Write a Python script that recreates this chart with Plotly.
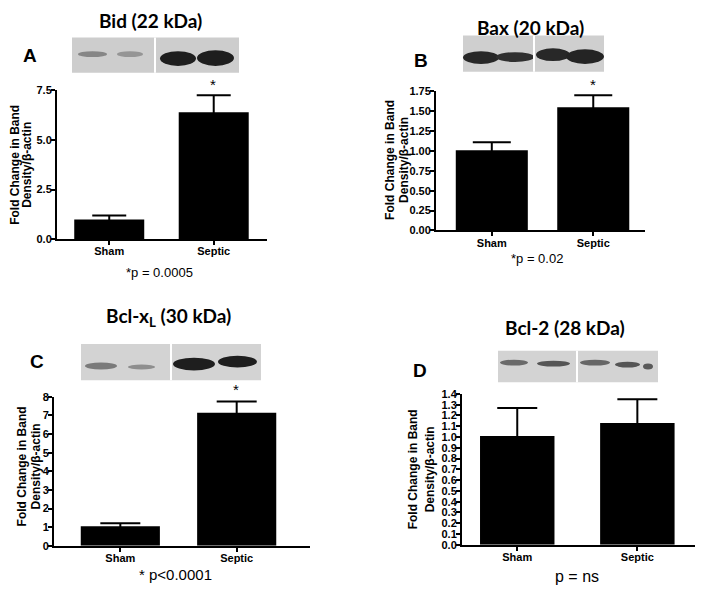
import plotly.graph_objects as go

# page body has an 8px default margin, so the figure is sized to fit the window
PAGE_OFF = 8
W, H = 704 - 2 * PAGE_OFF, 594 - 2 * PAGE_OFF

# ---------------- data ----------------
categories = ["Sham", "Septic"]

bid_values = [1.0, 6.4]
bid_errors = [0.2, 0.85]

bax_values = [1.01, 1.55]
bax_errors = [0.10, 0.15]

bclxl_values = [1.05, 7.15]
bclxl_errors = [0.16, 0.6]

bcl2_values = [1.01, 1.13]
bcl2_errors = [0.26, 0.22]

panel_titles = ["Bid (22 kDa)", "Bax (20 kDa)", "Bcl-x<sub>L</sub> (30 kDa)", "Bcl-2 (28 kDa)"]
panel_letters = ["A", "B", "C", "D"]
p_texts = ["*p = 0.0005", "*p = 0.02", "* p<0.0001", "p = ns"]
star_flags = [True, True, True, False]
ytitle_lines = ["Fold Change in Band", "Density/β-actin"]


def xp(px):
    return (px - PAGE_OFF) / W


def yp(py):
    return 1 - (py - PAGE_OFF) / H


# ---------------- layout geometry (window pixels) ----------------
panels = [
    dict(vals=bid_values, errs=bid_errors, xd=(57, 267), yd=(86, 238), yr=(0, 7.5), dtick=2.5, fmt=".1f",
         xr=(-0.5, 1.51), bw=0.67, cap=17, title=(150, 15), letter=(30, 50), ptxt=(159, 272), psize=13,
         ytx=(15, 27), yty=162, star=(213, 80)),
    dict(vals=bax_values, errs=bax_errors, xd=(436, 645), yd=(87, 229), yr=(0, 1.75), dtick=0.25, fmt=".2f",
         xr=(-0.55, 1.51), bw=0.71, cap=19, title=(530, 22), letter=(421, 55), ptxt=(537, 258), psize=13,
         ytx=(390, 404), yty=157, star=(593, 80)),
    dict(vals=bclxl_values, errs=bclxl_errors, xd=(54, 310), yd=(399, 551), yr=(0, 8), dtick=1, fmt="d",
         xr=(-0.57, 1.63), bw=0.68, cap=20, title=(168, 317), letter=(37, 363), ptxt=(175, 580), psize=15,
         ytx=(22, 36), yty=470, star=(236, 391)),
    dict(vals=bcl2_values, errs=bcl2_errors, xd=(462, 695), yd=(396, 550), yr=(0, 1.4), dtick=0.1, fmt=".1f",
         xr=(-0.46, 1.48), bw=0.62, cap=20, title=(565, 328), letter=(420, 372), ptxt=(577, 582), psize=16,
         ytx=(413, 430), yty=473, star=None),
]

blots = [
    dict(box=(72, 32, 239, 68), sep=155, bg="#cdcdcd",
         bands=[(78, 46, 107, 52, "#868686"), (117, 46, 143, 52, "#959595"),
                (160, 46, 196, 61, "#1e1e1e"), (197, 45, 234, 61, "#1e1e1e")]),
    dict(box=(463, 30, 604, 67), sep=534, bg="#cfcfcf",
         bands=[(463, 46, 499, 59, "#282828"), (496, 47, 534, 57, "#303030"),
                (536, 43, 570, 56, "#282828"), (566, 44, 604, 59, "#242424")]),
    dict(box=(81, 345, 261, 382), sep=171, bg="#d3d3d3",
         bands=[(85, 364, 117, 371, "#7a7a7a"), (128, 366, 155, 371, "#8e8e8e"),
                (173, 359, 215, 372, "#1e1e1e"), (218, 357, 257, 369, "#1e1e1e")]),
    dict(box=(498, 352, 658, 384), sep=577, bg="#d3d3d3",
         bands=[(500, 361, 528, 367, "#6a6a6a"), (537, 362, 570, 368, "#555555"),
                (580, 361, 610, 367, "#666666"), (615, 363, 640, 369, "#555555"),
                (643, 365, 653, 371, "#5a5a5a")]),
]

fig = go.Figure()
annotations = []
shapes = []

tick_font = dict(family="Liberation Sans, Arial", size=11, color="black", weight="bold")

for i, p in enumerate(panels):
    n = "" if i == 0 else str(i + 1)
    fig.add_trace(go.Bar(
        x=categories, y=p["vals"], xaxis="x" + n, yaxis="y" + n,
        marker=dict(color="black", line=dict(width=0)), width=p["bw"],
        error_y=dict(type="data", array=p["errs"], symmetric=True,
                     color="black", thickness=2, width=p["cap"]),
        showlegend=False, hoverinfo="skip",
    ))
    fig.layout["xaxis" + n] = dict(
        domain=[xp(p["xd"][0]), xp(p["xd"][1])], anchor="y" + n, range=list(p["xr"]),
        showline=True, linecolor="black", linewidth=2, ticks="outside", ticklen=4, tickwidth=2,
        tickcolor="black", showgrid=False, zeroline=False, tickfont=tick_font, fixedrange=True,
        ticklabelstandoff=-3,
    )
    fig.layout["yaxis" + n] = dict(
        domain=[yp(p["yd"][1]), yp(p["yd"][0])], anchor="x" + n, range=list(p["yr"]),
        dtick=p["dtick"], tick0=0, tickformat=p["fmt"],
        showline=True, linecolor="black", linewidth=2, ticks="outside", ticklen=4, tickwidth=2,
        tickcolor="black", showgrid=False, zeroline=False, tickfont=tick_font, fixedrange=True,
        ticklabelstandoff=-3,
    )
    annotations.append(dict(x=xp(p["title"][0]), y=yp(p["title"][1]), xref="paper", yref="paper",
                            text="<b>" + panel_titles[i] + "</b>", showarrow=False,
                            font=dict(family="Lato, Open Sans", size=19, color="black"),
                            xanchor="center", yanchor="middle"))
    annotations.append(dict(x=xp(p["letter"][0]), y=yp(p["letter"][1]), xref="paper", yref="paper",
                            text="<b>" + panel_letters[i] + "</b>", showarrow=False,
                            font=dict(family="Liberation Sans, Arial", size=19, color="black"),
                            xanchor="center", yanchor="middle"))
    annotations.append(dict(x=xp(p["ptxt"][0]), y=yp(p["ptxt"][1]), xref="paper", yref="paper",
                            text=p_texts[i], showarrow=False,
                            font=dict(family="Liberation Sans, Arial", size=p["psize"], color="black"),
                            xanchor="center", yanchor="middle"))
    for k, line in enumerate(ytitle_lines):
        annotations.append(dict(x=xp(p["ytx"][k]), y=yp(p["yty"]), xref="paper", yref="paper",
                                text="<b>" + line + "</b>", showarrow=False, textangle=-90,
                                font=dict(family="Liberation Sans, Arial", size=12, color="black"),
                                xanchor="center", yanchor="middle"))
    if star_flags[i]:
        annotations.append(dict(x=xp(p["star"][0]), y=yp(p["star"][1]), xref="paper", yref="paper",
                                text="*", showarrow=False,
                                font=dict(family="Liberation Sans, Arial", size=15, color="black"),
                                xanchor="center", yanchor="middle"))

for b in blots:
    x0, y0, x1, y1 = b["box"]
    shapes.append(dict(type="rect", xref="paper", yref="paper", x0=xp(x0), x1=xp(x1), y0=yp(y1), y1=yp(y0),
                       fillcolor=b["bg"], line=dict(width=0), layer="below"))
    for (bx0, by0, bx1, by1, col) in b["bands"]:
        shapes.append(dict(type="circle", xref="paper", yref="paper", x0=xp(bx0), x1=xp(bx1),
                           y0=yp(by1), y1=yp(by0), fillcolor=col, line=dict(width=0), layer="below"))
    shapes.append(dict(type="rect", xref="paper", yref="paper", x0=xp(b["sep"] - 1), x1=xp(b["sep"] + 1),
                       y0=yp(y1), y1=yp(y0), fillcolor="white", line=dict(width=0), layer="below"))

fig.update_layout(
    width=W, height=H, margin=dict(l=0, r=0, t=0, b=0),
    paper_bgcolor="white", plot_bgcolor="white",
    annotations=annotations, shapes=shapes,
)

fig.write_html("out.html")
